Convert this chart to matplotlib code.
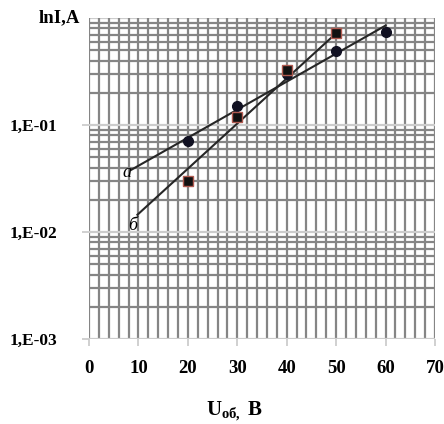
import matplotlib
matplotlib.use("Agg")
import matplotlib.pyplot as plt
from matplotlib.ticker import LogLocator, MultipleLocator, NullFormatter

# series "a" (circles) and "б" (squares)
u_a = [20, 30, 40, 50, 60]
i_a = [0.071, 0.15, 0.30, 0.49, 0.74]
u_b = [20, 30, 40, 50]
i_b = [0.030, 0.12, 0.33, 0.72]

# trend lines (end points)
trend_a_u = [8.5, 60]
trend_a_i = [0.038, 0.85]
trend_b_u = [9.8, 50]
trend_b_i = [0.0145, 0.72]

x_ticks = [0, 10, 20, 30, 40, 50, 60, 70]
y_ticks = [1e-3, 1e-2, 1e-1]
y_labels = ["1,E-03", "1,E-02", "1,E-01"]

plt.rcParams["font.family"] = ["Liberation Serif", "DejaVu Serif"]
plt.rcParams["mathtext.fontset"] = "custom"
plt.rcParams["mathtext.rm"] = "Liberation Serif"
plt.rcParams["mathtext.bf"] = "Liberation Serif:bold"
plt.rcParams["mathtext.it"] = "Liberation Serif:italic"

fig = plt.figure(figsize=(4.44, 4.24), dpi=100)
ax = fig.add_axes([89 / 444, 85 / 424, 346 / 444, 321 / 424])

ax.set_yscale("log")
ax.set_xlim(0, 70)
ax.set_ylim(1e-3, 1e0)

# grid
ax.xaxis.set_minor_locator(MultipleLocator(2))
ax.yaxis.set_minor_locator(LogLocator(base=10, subs=range(2, 10)))
ax.yaxis.set_minor_formatter(NullFormatter())
ax.grid(which="minor", axis="both", color="#858585", linewidth=1.6)
ax.grid(which="major", axis="x", color="#858585", linewidth=1.6)
ax.grid(which="major", axis="y", color="#cccccc", linewidth=1.6)
ax.axhline(1e0, color="#cccccc", linewidth=1.6, zorder=0.5)
ax.set_axisbelow(True)

ax.set_xticks(x_ticks)
ax.set_yticks(y_ticks)
ax.set_yticklabels(y_labels)
ax.tick_params(which="minor", length=0)
ax.tick_params(which="major", length=5, color="#c8c8c8", width=1.2)
for lab in ax.get_xticklabels():
    lab.set_fontweight("bold")
    lab.set_fontsize(13.5)
for lab in ax.get_yticklabels():
    lab.set_fontweight("bold")
    lab.set_fontsize(12.5)
ax.tick_params(axis="x", pad=10)
ax.tick_params(axis="y", pad=18)

ax.text(-0.025, 1.0, "lnI,A", transform=ax.transAxes, ha="right", va="center",
        fontsize=13.5, fontweight="bold")

for s in ax.spines.values():
    s.set_visible(False)

# trend lines
ax.plot(trend_a_u, trend_a_i, color="#262626", linewidth=1.5)
ax.plot(trend_b_u, trend_b_i, color="#262626", linewidth=1.5)

# points
ax.plot(u_a, i_a, "o", color="#111122", markersize=7, linestyle="none")
ax.plot(u_b, i_b, "s", color="#111111", markeredgecolor="#b05a50",
        markeredgewidth=1.0, markersize=7, linestyle="none")

ax.text(8.6, 0.036, "а", fontsize=13, style="italic", ha="right", va="center")
ax.text(9.7, 0.0115, "б", fontsize=13, style="italic", ha="right", va="center")

ax.set_xlabel(r"$\mathbf{U_{об,}\ B}$", fontsize=15)
ax.xaxis.set_label_coords(0.42, -0.225)
ax.xaxis.label.set_verticalalignment("center")

fig.savefig("out.png", dpi=100)
